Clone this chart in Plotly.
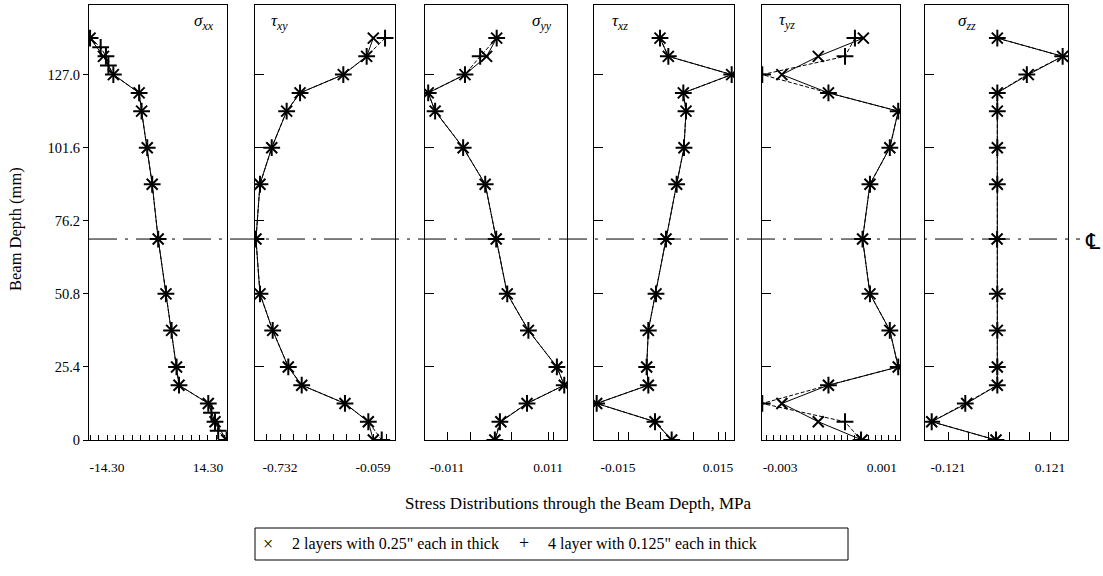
import plotly.graph_objects as go

# ---------------- data ----------------
depth = [139.7, 133.35, 127.0, 120.65, 114.3, 101.6, 88.9, 69.85,
         50.8, 38.1, 25.4, 19.05, 12.7, 6.35, 0.0]
depth_fine = [139.7, 136.5, 133.35, 130.2, 127.0, 120.65, 114.3, 101.6, 88.9,
              69.85, 50.8, 38.1, 25.4, 19.05, 12.7, 9.5, 6.35, 3.2, 0.0]

# sigma_xx
sxx_2 = [-19.1, -15.3, -12.5, -5.2, -4.5, -2.9, -1.5, 0.2, 2.4, 4.0, 5.4, 6.1, 14.4, 16.3, 19.6]
sxx_4 = [-19.1, -16.1, -14.6, -13.9, -12.5, -5.2, -4.5, -2.9, -1.5, 0.2, 2.4, 4.0,
         5.4, 6.1, 14.4, 15.3, 16.3, 17.2, 19.6]
# tau_xy
txy_2 = [-0.057, -0.105, -0.274, -0.587, -0.684, -0.792, -0.877, -0.906, -0.877,
         -0.785, -0.672, -0.575, -0.262, -0.093, -0.057]
txy_4 = [0.028, -0.105, -0.274, -0.587, -0.684, -0.792, -0.877, -0.906, -0.877,
         -0.785, -0.672, -0.575, -0.262, -0.093, 0.004]
# sigma_yy
syy_2 = [-0.0002, -0.0024, -0.0071, -0.0151, -0.0136, -0.0075, -0.0027, -0.0003,
         0.0021, 0.0067, 0.0129, 0.0145, 0.0064, 0.0007, -0.0006]
syy_4 = [-0.0002, -0.0038, -0.0071, -0.0151, -0.0136, -0.0075, -0.0027, -0.0003,
         0.0021, 0.0067, 0.0129, 0.0145, 0.0064, 0.0005, -0.0006]
# tau_xz
txz_2 = [-0.0024, 0.0001, 0.0191, 0.0046, 0.0054, 0.0048, 0.0026, -0.0006,
         -0.0036, -0.0059, -0.0064, -0.0059, -0.0214, -0.0039, 0.0011]
txz_4 = [-0.0024, 0.0001, 0.0191, 0.0046, 0.0054, 0.0048, 0.0026, -0.0006,
         -0.0036, -0.0059, -0.0064, -0.0059, -0.0214, -0.0039, 0.0011]
# tau_yz
tyz_2 = [0.00027, -0.0015, -0.00293, -0.0011, 0.00164, 0.00131, 0.00053, 0.00024,
         0.00053, 0.00131, 0.00164, -0.0011, -0.00293, -0.0015, 0.00022]
tyz_4 = [-0.00006, -0.00045, -0.0037, -0.0011, 0.00164, 0.00131, 0.00053, 0.00024,
         0.00053, 0.00131, 0.00164, -0.0011, -0.0037, -0.00045, 0.00018]
# sigma_zz
szz_2 = [-0.004, 0.151, 0.0695, -0.004, -0.004, -0.004, -0.004, -0.0045,
         -0.004, -0.004, -0.004, -0.004, -0.0766, -0.1597, -0.0071]
szz_4 = [-0.004, 0.151, 0.066, -0.004, -0.004, -0.004, -0.004, -0.0045,
         -0.004, -0.004, -0.004, -0.004, -0.080, -0.1597, -0.0071]

x_labels = [["-14.30", "14.30"], ["-0.732", "-0.059"], ["-0.011", "0.011"],
            ["-0.015", "0.015"], ["-0.003", "0.001"], ["-0.121", "0.121"]]
x_label_vals = [[-14.30, 14.30], [-0.732, -0.059], [-0.011, 0.011],
                [-0.015, 0.015], [-0.003, 0.001], [-0.121, 0.121]]
y_tick_vals = [0, 25.4, 50.8, 76.2, 101.6, 127.0]
y_tick_text = ["0", "25.4", "50.8", "76.2", "101.6", "127.0"]
titles = ["<i>σ<sub>xx</sub></i>", "<i>τ<sub>xy</sub></i>", "<i>σ<sub>yy</sub></i>",
          "<i>τ<sub>xz</sub></i>", "<i>τ<sub>yz</sub></i>", "<i>σ<sub>zz</sub></i>"]
legend_names = ['2 layers with 0.25" each in thick', '4 layer with 0.125" each in thick']

# ---------------- layout helpers ----------------
W, H = 1103, 576
ML, MR, MT, MB = 89, 35, 5, 136
PW, PH = W - ML - MR, H - MT - MB

def px_x(p):
    return (p - ML) / PW

def px_y(p):
    return (H - MB - p) / PH

frames = [(89, 227), (255, 395), (425, 567), (594, 734), (762, 900), (925, 1068)]
ranges = [[-19.4, 19.7], [-0.913, 0.100], [-0.0158, 0.0151],
          [-0.0222, 0.0198], [-0.00371, 0.00171], [-0.1756, 0.1637]]
# tick grid (start, step, k_from, k_to) and tick length per panel
tick_grid = [(0, 14.30 / 6, -8, 8), (-0.732, 0.673 / 7, -1, 8), (-0.00599, 0.00908, 0, 2),
             (-0.0119, 0.0097, 0, 3), (-0.003, 0.004 / 15, -2, 17), (-0.121, 0.0484, 0, 5)]
tick_len = [5, 6, 8, 8, 5, 8]
title_pos = [(204, 22), (279, 22), (542, 22), (620, 22), (787, 21), (967, 22)]

series = [
    (sxx_2, depth, sxx_4, depth_fine),
    (txy_2, depth, txy_4, depth),
    (syy_2, depth, syy_4, depth),
    (txz_2, depth, txz_4, depth),
    (tyz_2, depth, tyz_4, depth),
    (szz_2, depth, szz_4, depth),
]

FONT = "Liberation Serif"
fig = go.Figure()

for i, (v2, d2, v4, d4) in enumerate(series):
    ax = "" if i == 0 else str(i + 1)
    fig.add_trace(go.Scatter(
        x=v4, y=d4, xaxis="x" + ax, yaxis="y" + ax, mode="lines+markers",
        name=legend_names[1],
        line=dict(color="black", width=1, dash="4px,2px"),
        marker=dict(symbol="cross-thin", size=12, line=dict(color="black", width=2)),
        showlegend=False, cliponaxis=True))
    fig.add_trace(go.Scatter(
        x=v2, y=d2, xaxis="x" + ax, yaxis="y" + ax, mode="lines+markers",
        name=legend_names[0],
        line=dict(color="black", width=1),
        marker=dict(symbol="x-thin", size=11, line=dict(color="black", width=2)),
        showlegend=False, cliponaxis=True))

layout = dict(
    width=W, height=H,
    margin=dict(l=ML, r=MR, t=MT, b=MB),
    paper_bgcolor="white", plot_bgcolor="white",
    font=dict(family=FONT, size=14, color="black"),
    showlegend=False,
)

for i in range(6):
    ax = "" if i == 0 else str(i + 1)
    l, r = frames[i]
    t0, dt, k0, k1 = tick_grid[i]
    span = ranges[i][1] - ranges[i][0]
    grid = [t0 + k * dt for k in range(k0, k1 + 1)]
    grid = [g for g in grid if all(abs(g - v) > 0.02 * span for v in x_label_vals[i])]
    tv = list(x_label_vals[i]) + grid
    tt = list(x_labels[i]) + [" "] * len(grid)
    layout["xaxis" + ax] = dict(
        domain=[px_x(l), px_x(r)], range=ranges[i], anchor="y" + ax,
        showline=True, linecolor="black", linewidth=1, mirror=True,
        showgrid=False, zeroline=False,
        tickmode="array", tickvals=tv, ticktext=tt, tickangle=0,
        ticks="inside", ticklen=tick_len[i], tickcolor="black", tickwidth=1,
        ticklabelstandoff=15, tickfont=dict(family=FONT, size=13.5),
    )
    ydict = dict(
        domain=[0, 1], range=[0, 151.2], anchor="x" + ax,
        showline=True, linecolor="black", linewidth=1, mirror=True,
        showgrid=False, zeroline=False,
        tickmode="array", tickvals=y_tick_vals, tickcolor="black", tickwidth=1,
    )
    if i == 0:
        ydict.update(ticktext=y_tick_text, ticks="outside", ticklen=5,
                     tickfont=dict(family=FONT, size=14.5))
    else:
        ydict.update(ticks="inside", ticklen=9, showticklabels=False)
    layout["yaxis" + ax] = ydict

fig.update_layout(**layout)

# centre line
fig.add_shape(type="line", xref="paper", yref="y", x0=0, x1=px_x(1080), y0=69.85, y1=69.85,
              line=dict(color="black", width=1, dash="28px,8px,3px,8px"))

# legend box (drawn manually)
fig.add_shape(type="rect", xref="paper", yref="paper",
              x0=px_x(255), x1=px_x(848), y0=px_y(560), y1=px_y(528),
              line=dict(color="black", width=1), fillcolor="rgba(0,0,0,0)")

def ann(x, y, text, size, family=FONT, xanchor="center", angle=0):
    return dict(x=px_x(x), y=px_y(y), xref="paper", yref="paper", text=text,
                showarrow=False, xanchor=xanchor, yanchor="middle", textangle=angle,
                font=dict(family=family, size=size))

annotations = []
for i in range(6):
    tx, ty = title_pos[i]
    annotations.append(ann(tx, ty, titles[i], 17))
annotations.append(ann(15, 229, "Beam Depth (mm)", 16.5, angle=-90))
annotations.append(ann(578, 503, "Stress Distributions through the Beam Depth, MPa", 17))
annotations.append(ann(1093, 241, "℄", 22, family="DejaVu Sans"))
# legend entries
annotations.append(ann(268, 544, "×", 18))
annotations.append(ann(290, 544, legend_names[0], 16, xanchor="left"))
annotations.append(ann(524, 543, "+", 18))
annotations.append(ann(546, 544, legend_names[1], 16, xanchor="left"))
fig.update_layout(annotations=annotations)

fig.write_html("out.html")
